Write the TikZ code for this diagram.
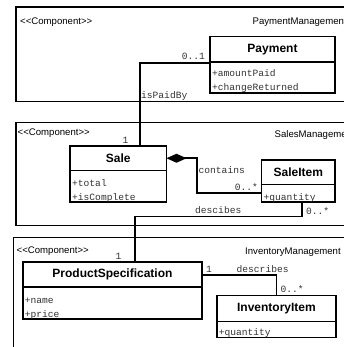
\documentclass[tikz,border=0pt]{standalone}
\usepackage{fontspec}
\setmainfont{Liberation Sans}[Ligatures=TeXOff]
\setmonofont{Liberation Mono}
\usetikzlibrary{positioning,arrows.meta}

\tikzset{
  pkg/.style={draw, line width=1.7pt},
  stereo/.style={font=\fontsize{9.6}{11}\selectfont, inner sep=0pt, anchor=base west},
  clsname/.style={draw, line width=1.7pt, inner sep=0pt, outer sep=0pt, anchor=north west,
    font=\fontsize{12}{14}\selectfont\bfseries},
  clsbody/.style={draw, line width=1.7pt, inner sep=0pt, outer sep=0pt, anchor=north west},
  attr/.style={font=\fontsize{9.6}{11}\ttfamily, text=black!80, inner sep=0pt, anchor=base west},
  mult/.style={font=\fontsize{9.6}{11}\ttfamily, text=black!80, inner sep=0pt},
  assoc/.style={line width=1.7pt},
}

\begin{document}
\begin{tikzpicture}[x=1pt,y=-1pt]
    \useasboundingbox (0,0) rectangle (344,347);
    \fill[white] (0,0) rectangle (344,347);
    \clip (0,0) rectangle (344,347);

    % packages
    \draw[pkg] (16,7) rectangle (380,101.5);
    \node[stereo] (payPkg) at (20,24.5) {<<Component>>};
    \node[stereo] (payPkgName) at (252.5,24.5) {PaymentManagement};

    \draw[pkg] (16,122.5) rectangle (380,225.5);
    \node[stereo] (salesPkg) at (17.5,136) {<<Component>>};
    \node[stereo] (salesPkgName) at (274.5,137.5) {SalesManagement};

    \draw[pkg] (13.5,237.5) rectangle (380,380);
    \node[stereo] (invPkg) at (16.5,253) {<<Component>>};
    \node[stereo] (invPkgName) at (245,254.5) {InventoryManagement};

    % classes
    \node[clsname, minimum width=125, minimum height=25.5] (payment) at (210,36.5) {Payment};
    \node[clsbody, minimum width=125, minimum height=31] (paymentBody) at (payment.south west) {};
    \node[attr] (paymentA1) at ([xshift=2pt,yshift=16pt]paymentBody.south west) {+amountPaid};
    \node[attr] (paymentA2) at ([xshift=2pt,yshift=2pt]paymentBody.south west) {+changeReturned};

    \node[clsname, minimum width=96.5, minimum height=24.5] (sale) at (70,146) {Sale};
    \node[clsbody, minimum width=96.5, minimum height=31.5] (saleBody) at (sale.south west) {};
    \node[attr] (saleA1) at ([xshift=2pt,yshift=16pt]saleBody.south west) {+total};
    \node[attr] (saleA2) at ([xshift=2pt,yshift=2pt]saleBody.south west) {+isComplete};

    \node[clsname, minimum width=73.5, minimum height=24.5] (saleItem) at (261.5,160) {SaleItem};
    \node[clsbody, minimum width=73.5, minimum height=17.5] (saleItemBody) at (saleItem.south west) {};
    \node[attr] (saleItemA1) at ([xshift=2pt,yshift=1.5pt]saleItemBody.south west) {+quantity};

    \node[clsname, minimum width=179.5, minimum height=25] (prodSpec) at (22.7,262.3) {ProductSpecification};
    \node[clsbody, minimum width=179.5, minimum height=32] (prodSpecBody) at (prodSpec.south west) {};
    \node[attr] (prodSpecA1) at ([xshift=2pt,yshift=16pt]prodSpecBody.south west) {+name};
    \node[attr] (prodSpecA2) at ([xshift=2pt,yshift=2pt]prodSpecBody.south west) {+price};

    \node[clsname, minimum width=119.5, minimum height=26] (invItem) at (216.7,295.5) {InventoryItem};
    \node[clsbody, minimum width=119.5, minimum height=16] (invItemBody) at (invItem.south west) {};
    \node[attr] (invItemA1) at ([xshift=2pt,yshift=2pt]invItemBody.south west) {+quantity};

    % associations
    \draw[assoc] ([yshift=-1pt]payment.south west) -| ([xshift=21.75pt]sale.north);
    \node[mult, anchor=base east] (payMult) at (205,59.5) {0..1};
    \node[mult, anchor=base west] (payLabel) at (141,99) {isPaidBy};
    \node[mult, anchor=base] (saleMult) at (125.5,143.5) {1};

    \draw[assoc, {Diamond[length=20pt,width=9pt]}-] (sale.east) -- ++(30.5,0) |- (saleItemBody.west);
    \node[mult, anchor=base west] (containsLabel) at (198.5,173.5) {contains};
    \node[mult, anchor=base east] (itemMult) at (258,190.5) {0..*};

    \draw[assoc] ([xshift=3.5pt]saleItemBody.south) -- ++(0,14.5) -| ([xshift=22.5pt]prodSpec.north);
    \node[mult, anchor=base west] (descLabel) at (195,213.5) {descibes};
    \node[mult, anchor=base west] (descMult) at (306,214.5) {0..*};
    \node[mult, anchor=base] (specMult) at (118.5,259) {1};

    \draw[assoc] (prodSpec.east) -| (invItem.north);
    \node[mult, anchor=base west] (specInvMult) at (206,272) {1};
    \node[mult, anchor=base west] (describesLabel) at (236.5,272) {describes};
    \node[mult, anchor=base west] (invMult) at (280.5,292.5) {0..*};

\end{tikzpicture}
\end{document}
